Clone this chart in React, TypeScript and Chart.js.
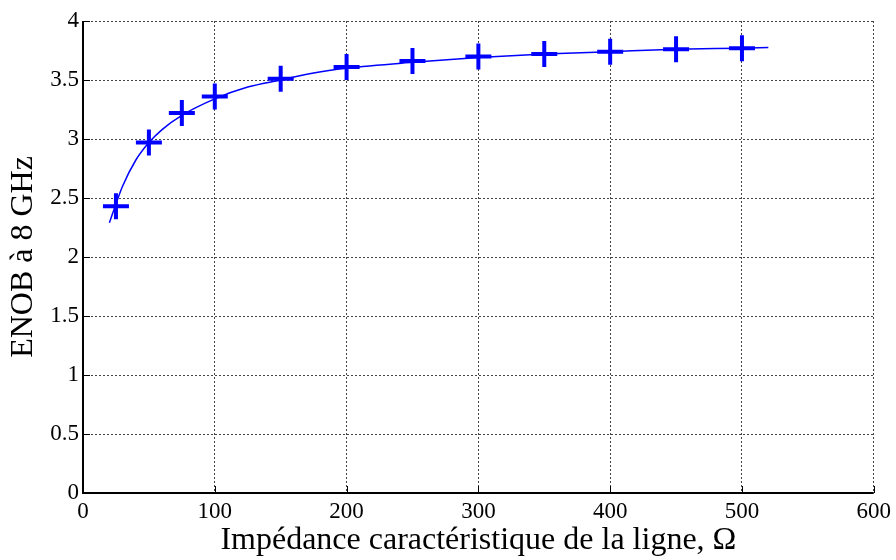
import React, { useEffect, useRef } from "react";
import { Chart, registerables } from "chart.js";

Chart.register(...registerables);

// Measured points (impedance in ohms, ENOB)
const measX = [25, 50, 75, 100, 150, 200, 250, 300, 350, 400, 450, 500];
const measY = [2.43, 2.97, 3.22, 3.36, 3.51, 3.61, 3.66, 3.7, 3.72, 3.74, 3.76, 3.77];

// Fitted curve samples
const fitX = [20, 25, 30, 40, 50, 60, 75, 100, 125, 150, 175, 200, 250, 300, 350, 400, 450, 500, 520];
const fitY = [2.29, 2.45, 2.6, 2.82, 2.97, 3.08, 3.2, 3.34, 3.44, 3.5, 3.56, 3.6, 3.65, 3.69, 3.72, 3.74, 3.76, 3.77, 3.775];

const xTicks = [0, 100, 200, 300, 400, 500, 600];
const yTicks = [0, 0.5, 1, 1.5, 2, 2.5, 3, 3.5, 4];

const xTitle = "Impédance caractéristique de la ligne, Ω";
const yTitle = "ENOB à 8 GHz";

const FONT = "'Liberation Serif', 'Times New Roman', serif";

const axesPlugin = {
  id: "axesPlugin",
  afterDatasetsDraw(chart: any) {
    const { ctx, chartArea, scales } = chart;
    ctx.save();
    ctx.setLineDash([]);
    ctx.strokeStyle = "#000";
    ctx.lineWidth = 1;
    ctx.beginPath();
    for (const v of xTicks) {
      const px = Math.round(scales.x.getPixelForValue(v)) + 0.5;
      ctx.moveTo(px, chartArea.bottom);
      ctx.lineTo(px, chartArea.bottom - 7);
    }
    for (const v of yTicks) {
      const py = Math.round(scales.y.getPixelForValue(v)) + 0.5;
      ctx.moveTo(chartArea.left, py);
      ctx.lineTo(chartArea.left + 7, py);
    }
    ctx.stroke();
    ctx.lineWidth = 2;
    ctx.beginPath();
    ctx.moveTo(chartArea.left, chartArea.top);
    ctx.lineTo(chartArea.left, chartArea.bottom);
    ctx.lineTo(chartArea.right, chartArea.bottom);
    ctx.stroke();
    ctx.restore();
  },
};

export default function App() {
  const ref = useRef<HTMLCanvasElement | null>(null);

  useEffect(() => {
    document.body.style.margin = "0";
    const canvas = ref.current;
    if (!canvas) return;
    const chart = new Chart(canvas, {
      type: "scatter",
      data: {
        datasets: [
          {
            label: "fit",
            data: fitX.map((x, i) => ({ x, y: fitY[i] })),
            showLine: true,
            borderColor: "#0000ff",
            borderWidth: 1.5,
            pointRadius: 0,
            tension: 0.4,
            cubicInterpolationMode: "monotone",
            fill: false,
          },
          {
            label: "mesures",
            data: measX.map((x, i) => ({ x, y: measY[i] })),
            showLine: false,
            pointStyle: "cross",
            pointRadius: 13,
            pointBorderWidth: 4,
            borderColor: "#0000ff",
            backgroundColor: "#0000ff",
          },
        ],
      },
      options: {
        animation: false,
        responsive: false,
        maintainAspectRatio: false,
        layout: { padding: { top: 21, right: 22, left: 0, bottom: 0 } },
        plugins: {
          legend: { display: false },
          tooltip: { enabled: false },
        },
        scales: {
          x: {
            type: "linear",
            min: 0,
            max: 600,
            afterFit(scale: any) {
              scale.height = 67;
            },
            afterBuildTicks(scale: any) {
              scale.ticks = xTicks.map((v) => ({ value: v }));
            },
            ticks: {
              color: "#000",
              font: { family: FONT, size: 23 },
              padding: 5,
              maxRotation: 0,
              callback: (v: any) => String(v),
            },
            grid: {
              color: "#444",
              lineWidth: 1,
              drawTicks: false,
            },
            border: { display: false, dash: [2, 2] },
            title: {
              display: true,
              text: xTitle,
              color: "#000",
              font: { family: FONT, size: 32 },
              padding: { top: 0, bottom: 0 },
            },
          },
          y: {
            type: "linear",
            min: 0,
            max: 4,
            afterFit(scale: any) {
              scale.width = 83;
            },
            afterBuildTicks(scale: any) {
              scale.ticks = yTicks.map((v) => ({ value: v }));
            },
            ticks: {
              color: "#000",
              font: { family: FONT, size: 23 },
              padding: 4,
              callback: (v: any) => String(v),
            },
            grid: {
              color: "#444",
              lineWidth: 1,
              drawTicks: false,
            },
            border: { display: false, dash: [2, 2] },
            title: {
              display: true,
              text: yTitle,
              color: "#000",
              font: { family: FONT, size: 32 },
              padding: { top: 4, bottom: 0 },
            },
          },
        },
      },
      plugins: [axesPlugin],
    } as any);
    return () => chart.destroy();
  }, []);

  return (
    <div style={{ position: "absolute", left: 0, top: 0, width: 896, height: 560, background: "#fff" }}>
      <canvas ref={ref} width={896} height={560} style={{ width: 896, height: 560 }} />
    </div>
  );
}
